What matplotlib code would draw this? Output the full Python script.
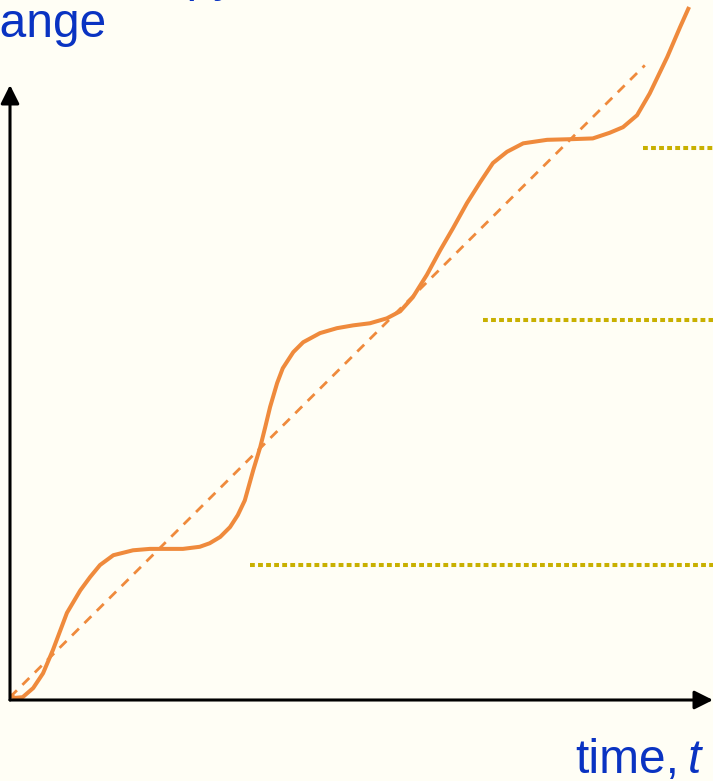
import matplotlib.pyplot as plt

W, H = 713, 781
BG = "#FFFEF5"
ORANGE = "#EF8A3C"
OLIVE = "#C8B000"
BLUE = "#0A33C2"

# entropy curve (t, S)
t_curve = [0.0, 0.07, 0.18, 0.33, 0.47, 0.61, 0.81, 1.00, 1.14, 1.28, 1.47,
           1.75, 1.99, 2.23, 2.46, 2.70, 2.84, 2.99, 3.13, 3.24, 3.34, 3.46,
           3.56, 3.63, 3.70, 3.80, 3.88, 4.03, 4.17, 4.41, 4.65, 4.88, 5.12,
           5.36, 5.55, 5.73, 5.83, 5.93, 6.12, 6.30, 6.50, 6.69, 6.87, 7.07,
           7.30, 7.64, 8.01, 8.29, 8.53, 8.72, 8.92, 9.10, 9.35, 9.53, 9.66]
s_curve = [0.07, 0.03, 0.04, 0.17, 0.38, 0.71, 1.24, 1.56, 1.75, 1.92, 2.06,
           2.13, 2.15, 2.15, 2.15, 2.18, 2.23, 2.32, 2.46, 2.63, 2.84, 3.27,
           3.60, 3.88, 4.17, 4.51, 4.72, 4.95, 5.09, 5.22, 5.29, 5.33, 5.36,
           5.43, 5.53, 5.73, 5.89, 6.05, 6.40, 6.71, 7.07, 7.37, 7.64, 7.80,
           7.92, 7.97, 7.98, 7.99, 8.07, 8.15, 8.32, 8.63, 9.15, 9.57, 9.86]

# straight average trend
t_trend = [0.0, 9.03]
s_trend = [0.04, 9.03]

# plateau reference levels (start t, level)
level_start = [3.41, 6.73, 9.00]
level_value = [1.92, 5.41, 7.85]

fig = plt.figure(figsize=(W / 100, H / 100), dpi=100, facecolor=BG)
ax = fig.add_axes([10 / W, 81 / H, 703 / W, 615 / H])
ax.set_facecolor(BG)
ax.set_xlim(0, 10)
ax.set_ylim(0, 8.75)
ax.axis("off")

ax.plot(t_trend, s_trend, color=ORANGE, lw=2.0, dashes=(3.5, 2.8), clip_on=False)
ax.plot(t_curve, s_curve, color=ORANGE, lw=2.9, clip_on=False,
        solid_capstyle="butt", solid_joinstyle="round")

for x0, y0 in zip(level_start, level_value):
    ax.plot([x0, 10], [y0, y0], color=OLIVE, lw=2.9, dashes=(1.2, 0.8),
            dash_capstyle="butt", clip_on=False)

arrow = dict(arrowstyle="-|>", lw=2.2, color="black", mutation_scale=28,
             shrinkA=0, shrinkB=0)
ax.annotate("", xy=(10, 0), xytext=(0, 0), arrowprops=arrow, annotation_clip=False)
ax.annotate("", xy=(0, 8.75), xytext=(0, 0), arrowprops=arrow, annotation_clip=False)

font = dict(family="Liberation Sans", size=34.5, color=BLUE)
fig.text(72 / W, 1 - (-9) / H, "Entropy", va="baseline", ha="left", **font)
fig.text(-51 / W, 1 - 37 / H, "change", va="baseline", ha="left", **font)
fig.text(575 / W, 1 - 773 / H, "time,", va="baseline", ha="left", **font)
fig.text(688 / W, 1 - 773 / H, "t", va="baseline", ha="left", style="italic", **font)

fig.savefig("out.png", dpi=100, facecolor=BG)
